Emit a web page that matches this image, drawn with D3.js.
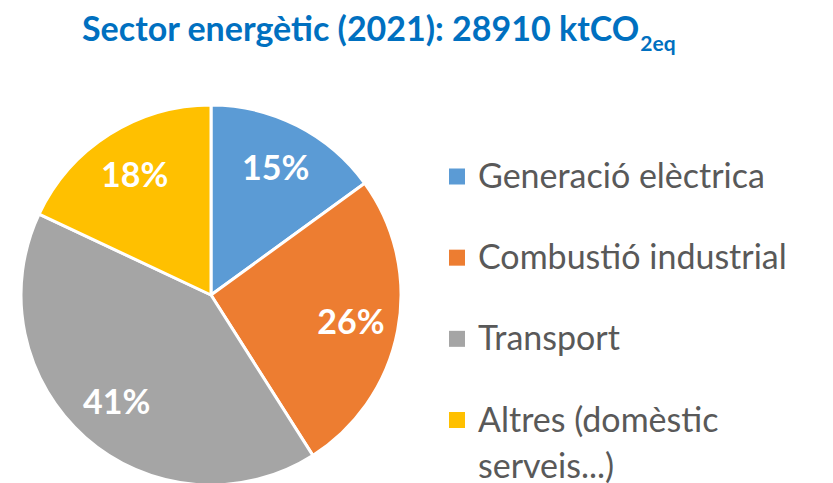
<!DOCTYPE html>
<meta charset="UTF-8">
<script src="https://d3js.org/d3.v7.min.js"></script>
<style>
  body { margin: 0; background: #fff; }
  svg { display: block; font-family: Lato, "Open Sans", sans-serif; }
</style>
<body>
<div id="chart"></div>
<script>
// data
var categories = ["Generació elèctrica", "Combustió industrial", "Transport", "Altres (domèstic serveis...)"];
var legendLines = [["Generació elèctrica"], ["Combustió industrial"], ["Transport"], ["Altres (domèstic", "serveis...)"]];
var values = [15, 26, 41, 18];
var colors = ["#5B9BD5", "#ED7D31", "#A5A5A5", "#FFC000"];

var width = 833, height = 483;
var cx = 211, cy = 295, radius = 190;

var svg = d3.select("#chart").append("svg")
  .attr("width", width)
  .attr("height", height);

// title with subscript
var title = svg.append("text")
  .attr("x", 82)
  .attr("y", 41)
  .attr("fill", "#0070C0")
  .attr("font-weight", "bold")
  .attr("font-size", 34);
title.append("tspan").text("Sector energètic (2021): 28910 ktCO");
title.append("tspan").attr("font-size", 21).attr("dx", 1).attr("dy", 10).text("2eq");

var pie = d3.pie().sort(null).value(function(d) { return d; });
var arc = d3.arc().innerRadius(0).outerRadius(radius);
var labelArc = d3.arc().innerRadius(radius * 0.75).outerRadius(radius * 0.75);

var g = svg.append("g").attr("transform", "translate(" + cx + "," + cy + ")");

g.selectAll("path")
  .data(pie(values))
  .enter()
  .append("path")
    .attr("d", arc)
    .attr("fill", function(d, i) { return colors[i]; })
    .attr("stroke", "#fff")
    .attr("stroke-width", 3)
    .attr("stroke-linejoin", "round");

g.selectAll("text.lbl")
  .data(pie(values))
  .enter()
  .append("text")
    .attr("class", "lbl")
    .attr("transform", function(d) { return "translate(" + labelArc.centroid(d) + ")"; })
    .attr("text-anchor", "middle")
    .attr("dy", "0.36em")
    .attr("fill", "#fff")
    .attr("font-weight", "bold")
    .attr("font-size", 34)
    .text(function(d) { return d.data + "%"; });

// legend
var legend = svg.append("g").attr("transform", "translate(449,0)");
var rowY = d3.scaleLinear().domain([0, 3]).range([176.5, 420]);

var item = legend.selectAll("g")
  .data(categories)
  .enter()
  .append("g")
    .attr("transform", function(d, i) { return "translate(0," + rowY(i) + ")"; });

item.append("rect")
  .attr("x", 0)
  .attr("y", -8)
  .attr("width", 16)
  .attr("height", 16)
  .attr("fill", function(d, i) { return colors[i]; });

item.append("text")
  .attr("fill", "#595959")
  .attr("font-size", 34)
  .selectAll("tspan")
  .data(function(d, i) { return legendLines[i]; })
  .enter()
  .append("tspan")
    .attr("x", 29)
    .attr("y", function(d, j) { return 11.5 + j * 46; })
    .text(function(d) { return d; });
</script>
</body>
